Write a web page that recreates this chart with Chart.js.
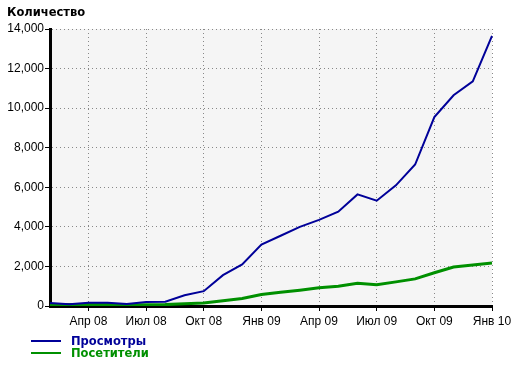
<!DOCTYPE html>
<html>
<head>
<meta charset="utf-8">
<script src="https://cdn.jsdelivr.net/npm/chart.js@4"></script>
<style>
  html, body { margin: 0; padding: 0; background: #ffffff; }
  #wrap { position: relative; width: 520px; height: 366px; }
</style>
</head>
<body>
<div id="wrap"><canvas id="c" width="520" height="366"></canvas></div>
<script>
const titleText = 'Количество';
const months = ['Фев 08','Мар 08','Апр 08','Май 08','Июн 08','Июл 08','Авг 08','Сен 08','Окт 08','Ноя 08','Дек 08',
  'Янв 09','Фев 09','Мар 09','Апр 09','Май 09','Июн 09','Июл 09','Авг 09','Сен 09','Окт 09','Ноя 09','Дек 09','Янв 10'];
const tickLabels = ['Апр 08','Июл 08','Окт 08','Янв 09','Апр 09','Июл 09','Окт 09','Янв 10'];
const seriesNames = ['Просмотры', 'Посетители'];
const views = [150, 90, 170, 170, 100, 200, 220, 540, 750, 1560, 2100, 3100, 3550, 4000, 4350, 4770, 5640, 5320, 6100, 7150, 9550, 10650, 11350, 13650];
const visitors = [80, 70, 75, 75, 65, 65, 70, 110, 150, 270, 380, 580, 700, 800, 920, 1000, 1150, 1070, 1220, 1370, 1680, 1970, 2070, 2170];
const yTicks = [0, 2000, 4000, 6000, 8000, 10000, 12000, 14000];

const BLUE = '#000099';
const GREEN = '#009000';
const TICK_FONT = { family: 'Liberation Sans', size: 12 };

const isQuarter = (i) => tickLabels.includes(months[i]);

const decor = {
  id: 'decor',
  beforeDraw(chart) {
    const { ctx, chartArea: a } = chart;
    ctx.save();
    ctx.fillStyle = '#f5f5f5';
    ctx.fillRect(a.left, a.top, a.right - a.left, a.bottom - a.top);
    ctx.restore();
  },
  afterDraw(chart) {
    const { ctx } = chart;
    ctx.save();
    ctx.fillStyle = '#000';
    ctx.font = 'bold 11.5px "DejaVu Sans"';
    ctx.textBaseline = 'alphabetic';
    ctx.fillText(titleText, 7, 16);
    const colors = [BLUE, GREEN];
    const ys = [341, 353];
    seriesNames.forEach((n, i) => {
      ctx.strokeStyle = colors[i];
      ctx.lineWidth = 2;
      ctx.beginPath();
      ctx.moveTo(31, ys[i]);
      ctx.lineTo(61, ys[i]);
      ctx.stroke();
      ctx.fillStyle = colors[i];
      ctx.font = 'bold 11.5px "DejaVu Sans"';
      ctx.fillText(n, 71, ys[i] + 4);
    });
    ctx.restore();
  }
};

new Chart(document.getElementById('c'), {
  type: 'line',
  data: {
    labels: months,
    datasets: [
      { label: seriesNames[0], data: views, borderColor: BLUE, borderWidth: 2, pointRadius: 0, tension: 0, fill: false },
      { label: seriesNames[1], data: visitors, borderColor: GREEN, borderWidth: 3, pointRadius: 0, tension: 0, fill: false }
    ]
  },
  options: {
    responsive: false,
    animation: false,
    events: [],
    layout: { padding: { top: 29, right: 28, bottom: 0, left: 0 } },
    plugins: { legend: { display: false }, tooltip: { enabled: false }, title: { display: false } },
    scales: {
      x: {
        type: 'category',
        offset: false,
        afterFit(s) { s.height = 60; },
        grid: {
          drawOnChartArea: true,
          color: (c) => (c.index !== undefined && isQuarter(c.index) && c.index > 0) ? '#888888' : 'rgba(0,0,0,0)',
          lineWidth: 1,
          tickLength: 5,
          tickColor: (c) => (c.index !== undefined && isQuarter(c.index)) ? '#000' : 'rgba(0,0,0,0)',
          tickWidth: 1
        },
        border: { display: true, color: '#000', width: 3, dash: [1, 3] },
        ticks: {
          autoSkip: false,
          maxRotation: 0,
          color: '#000',
          font: TICK_FONT,
          padding: 3,
          callback: (v, i) => isQuarter(i) ? months[i] : ''
        }
      },
      y: {
        min: 0,
        max: 14000,
        afterFit(s) { s.width = 50; },
        afterBuildTicks(s) { s.ticks = yTicks.map(v => ({ value: v })); },
        grid: {
          color: (c) => (c.tick && c.tick.value > 0) ? '#888888' : 'rgba(0,0,0,0)',
          lineWidth: 1,
          tickLength: 5,
          tickColor: '#000',
          tickWidth: 1
        },
        border: { display: true, color: '#000', width: 3, dash: [1, 3] },
        ticks: {
          color: '#000',
          font: TICK_FONT,
          padding: 1,
          callback: (v) => Number(v).toLocaleString('en-US')
        }
      }
    }
  },
  plugins: [decor]
});
</script>
</body>
</html>
